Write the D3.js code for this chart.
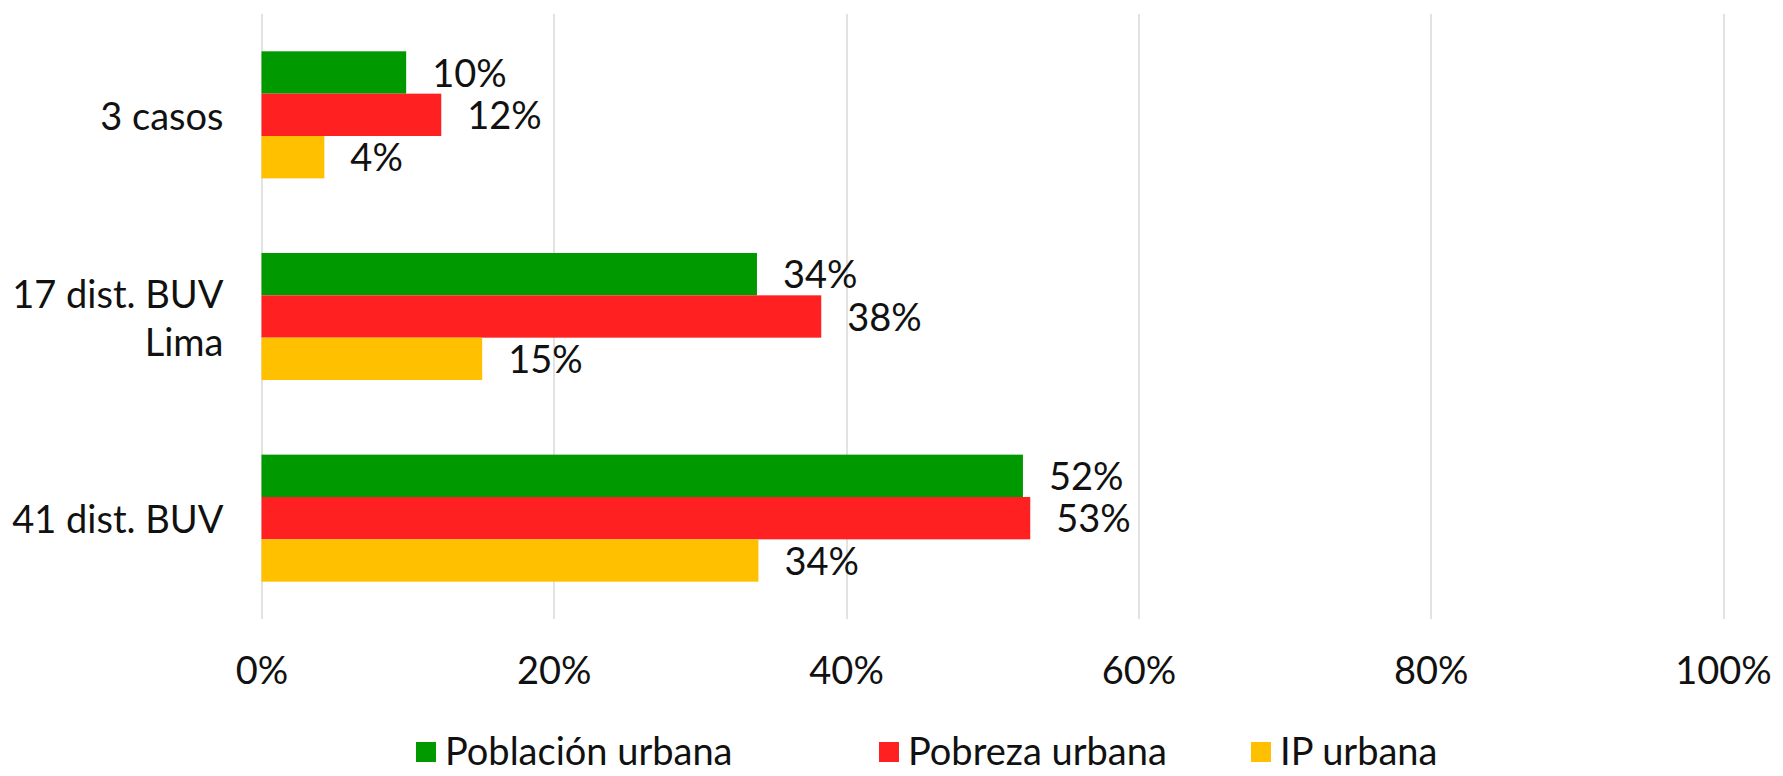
<!DOCTYPE html>
<html>
<head>
<meta charset="utf-8">
<script src="https://cdn.jsdelivr.net/npm/d3@7"></script>
<style>
  body { margin: 0; background: #fff; }
  text { font-family: Lato, "Open Sans", sans-serif; fill: #111; }
</style>
</head>
<body>
<div id="bar_dataviz"></div>
<script>
// data
const categories = ["3 casos", "17 dist. BUV\nLima", "41 dist. BUV"];
const seriesNames = ["Población urbana", "Pobreza urbana", "IP urbana"];
const seriesColors = ["#009900", "#ff2121", "#ffc000"];
const poblacionUrbana = [0.099, 0.339, 0.521];
const pobrezaUrbana = [0.123, 0.383, 0.526];
const ipUrbana = [0.043, 0.151, 0.340];
const xTicks = [0, 0.2, 0.4, 0.6, 0.8, 1];

const seriesValues = [poblacionUrbana, pobrezaUrbana, ipUrbana];

// set the dimensions and margins of the graph
const margin = {top: 14, right: 60, bottom: 157, left: 261.5},
    width = 1783 - margin.left - margin.right,
    height = 776 - margin.top - margin.bottom;

const svg = d3.select("#bar_dataviz")
  .append("svg")
    .attr("width", width + margin.left + margin.right)
    .attr("height", height + margin.top + margin.bottom)
  .append("g")
    .attr("transform", `translate(${margin.left},${margin.top})`);

// X axis
const x = d3.scaleLinear()
  .domain([0, 1])
  .range([0, width]);

// gridlines
svg.append("g")
  .selectAll("line")
  .data(xTicks)
  .join("line")
    .attr("x1", d => Math.round(x(d)) + 0.5)
    .attr("x2", d => Math.round(x(d)) + 0.5)
    .attr("y1", 0)
    .attr("y2", height)
    .attr("stroke", "#d9d9d9")
    .attr("stroke-width", 1.5);

const xAxis = svg.append("g")
  .attr("transform", `translate(0, ${height})`)
  .call(d3.axisBottom(x).tickValues(xTicks).tickFormat(d3.format(".0%")).tickSize(0).tickPadding(38));
xAxis.select(".domain").remove();
xAxis.selectAll("text")
  .attr("font-size", 38)
  .attr("font-family", "Lato, sans-serif")
  .attr("fill", "#111");

// Y axis
const y = d3.scaleBand()
  .domain(categories)
  .range([0, height])
  .paddingInner(0.37)
  .paddingOuter(0.185);

const ySub = d3.scaleBand()
  .domain(d3.range(seriesNames.length))
  .range([0, y.bandwidth()]);

// category labels
const catLabels = svg.append("g")
  .selectAll("text")
  .data(categories)
  .join("text")
    .attr("text-anchor", "end")
    .attr("font-size", 38)
    .attr("x", -38);
catLabels.each(function(d) {
  const lines = d.split("\n");
  const cy = y(d) + y.bandwidth() / 2 + 2;
  d3.select(this).selectAll("tspan")
    .data(lines)
    .join("tspan")
      .attr("x", -38)
      .attr("y", (l, i) => cy + (i - (lines.length - 1) / 2) * 48)
      .attr("dy", "0.35em")
      .text(l => l);
});

// bars
const groups = svg.append("g")
  .selectAll("g")
  .data(categories)
  .join("g")
    .attr("transform", d => `translate(0, ${y(d)})`);

groups.selectAll("rect")
  .data((d, ci) => seriesValues.map((vals, si) => ({si: si, v: vals[ci]})))
  .join("rect")
    .attr("x", 0)
    .attr("y", d => ySub(d.si))
    .attr("width", d => x(d.v))
    .attr("height", ySub.bandwidth())
    .attr("fill", d => seriesColors[d.si]);

// data labels
groups.selectAll("text")
  .data((d, ci) => seriesValues.map((vals, si) => ({si: si, v: vals[ci]})))
  .join("text")
    .attr("x", d => x(d.v) + 26)
    .attr("y", d => ySub(d.si) + ySub.bandwidth() / 2 + 1)
    .attr("dy", "0.35em")
    .attr("font-size", 38)
    .text(d => d3.format(".0%")(d.v));

// legend
const legendX = [416, 879, 1251];
const legend = svg.append("g")
  .attr("transform", `translate(${-margin.left}, ${-margin.top})`)
  .selectAll("g")
  .data(seriesNames)
  .join("g")
    .attr("transform", (d, i) => `translate(${legendX[i]}, 752)`);

legend.append("rect")
  .attr("x", 0)
  .attr("y", -10)
  .attr("width", 20)
  .attr("height", 20)
  .attr("fill", (d, i) => seriesColors[i]);

legend.append("text")
  .attr("x", 29)
  .attr("y", 0)
  .attr("dy", "0.35em")
  .attr("font-size", 38)
  .text(d => d);
</script>
</body>
</html>
